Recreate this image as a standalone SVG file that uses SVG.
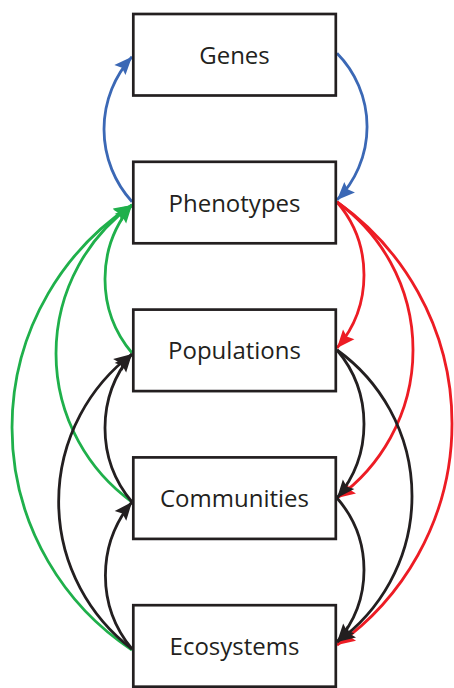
<svg xmlns="http://www.w3.org/2000/svg" width="454" height="688" viewBox="0 0 454 688">
<style>
.box{fill:#fff;stroke:#231f20;stroke-width:2.7}
.lbl{font-family:"Open Sans","Noto Sans",sans-serif;font-size:24px;fill:#231f20;text-anchor:middle}
.c{fill:none;stroke-width:2.8}
.blue{stroke:#3b68b5;marker-end:url(#aB)}
.green{stroke:#1fb04b;marker-end:url(#aG)}
.red{stroke:#ed1c24;marker-end:url(#aR)}
.black{stroke:#231f20;marker-end:url(#aK)}
</style>
<defs>
<marker id="aB" markerUnits="userSpaceOnUse" markerWidth="20" markerHeight="16" refX="18" refY="7.5" orient="auto" overflow="visible"><path d="M0,0 L18,7.5 L0,15 L3,7.5 z" fill="#3b68b5"/></marker>
<marker id="aG" markerUnits="userSpaceOnUse" markerWidth="20" markerHeight="16" refX="18" refY="7.5" orient="auto" overflow="visible"><path d="M0,0 L18,7.5 L0,15 L3,7.5 z" fill="#1fb04b"/></marker>
<marker id="aR" markerUnits="userSpaceOnUse" markerWidth="20" markerHeight="16" refX="18" refY="7.5" orient="auto" overflow="visible"><path d="M0,0 L18,7.5 L0,15 L3,7.5 z" fill="#ed1c24"/></marker>
<marker id="aK" markerUnits="userSpaceOnUse" markerWidth="20" markerHeight="16" refX="18" refY="7.5" orient="auto" overflow="visible"><path d="M0,0 L18,7.5 L0,15 L3,7.5 z" fill="#231f20"/></marker>
</defs>
<g id="connectors">
<path class="c blue" d="M132,201.7 A107.9,107.9 0 0 1 132,56.7"/>
<path class="c green" d="M132,353 A114.9,114.9 0 0 1 132,205"/>
<path class="c green" d="M132,502 A183.1,183.1 0 0 1 132,205"/>
<path class="c green" d="M132,650 A266.3,266.3 0 0 1 132,205"/>
<path class="c black" d="M132,502 A114.9,114.9 0 0 1 132,354"/>
<path class="c black" d="M132,649 A185,185 0 0 1 132,354"/>
<path class="c black" d="M132,649 A114.9,114.9 0 0 1 132,502"/>
<path class="c blue" d="M337,53.3 A104.5,104.5 0 0 1 337,200"/>
<path class="c red" d="M337,202 A112.2,112.2 0 0 1 337,348"/>
<path class="c red" d="M337,202 A182.1,182.1 0 0 1 337,498"/>
<path class="c red" d="M337,202 A270.8,270.8 0 0 1 337,645"/>
<path class="c black" d="M337,350 A114.9,114.9 0 0 1 337,498"/>
<path class="c black" d="M337,350 A179.6,179.6 0 0 1 337,642"/>
<path class="c black" d="M337,498 A109.5,109.5 0 0 1 337,642"/>
</g>
<g id="genes"><rect class="box" x="133.3" y="14" width="202.5" height="81.5"/><text class="lbl" x="234.5" y="63.5">Genes</text></g>
<g id="phenotypes"><rect class="box" x="133.3" y="161.8" width="202.5" height="81.5"/><text class="lbl" x="234.5" y="211.5">Phenotypes</text></g>
<g id="populations"><rect class="box" x="133.3" y="309.6" width="202.5" height="81.5"/><text class="lbl" x="234.5" y="359.3">Populations</text></g>
<g id="communities"><rect class="box" x="133.3" y="457.4" width="202.5" height="81.5"/><text class="lbl" x="234.5" y="507.1">Communities</text></g>
<g id="ecosystems"><rect class="box" x="133.3" y="605.2" width="202.5" height="81.5"/><text class="lbl" x="234.5" y="654.9">Ecosystems</text></g>
</svg>
